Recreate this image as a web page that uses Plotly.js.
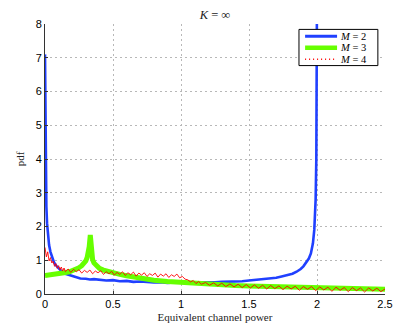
<!DOCTYPE html>
<html>
<head>
<meta charset="utf-8">
<script src="https://cdn.plot.ly/plotly-3.0.1.min.js"></script>
<style>
  html, body { margin: 0; padding: 0; background: #fff; }
  #pdf-graph { width: 415px; height: 332px; }
</style>
</head>
<body>
<div id="pdf-graph"></div>
<script>
'use strict';

// M = 2 (blue), histogram estimate
const m2X = [0, 0.003, 0.006, 0.01, 0.015, 0.02, 0.03, 0.04, 0.05, 0.065, 0.08, 0.1, 0.12, 0.15, 0.18, 0.2,
    0.23, 0.26, 0.3, 0.33, 0.36, 0.4, 0.45, 0.5, 0.55, 0.6, 0.65, 0.7, 0.75, 0.8, 0.85, 0.9, 0.95, 1.0,
    1.05, 1.1, 1.15, 1.2, 1.25, 1.3, 1.35, 1.4, 1.45, 1.5, 1.55, 1.6, 1.65, 1.7, 1.74, 1.78, 1.82, 1.85,
    1.88, 1.9, 1.92, 1.94, 1.955, 1.97, 1.98, 1.99, 1.995, 2.0];
const m2Y = [7.1, 4.6, 3.4, 2.6, 2.1, 1.8, 1.45, 1.25, 1.1, 0.95, 0.85, 0.76, 0.68, 0.6, 0.56, 0.52,
    0.49, 0.46, 0.45, 0.43, 0.44, 0.42, 0.4, 0.41, 0.38, 0.39, 0.36, 0.37, 0.35, 0.34, 0.35, 0.33, 0.34, 0.33,
    0.34, 0.33, 0.35, 0.34, 0.35, 0.36, 0.36, 0.37, 0.38, 0.4, 0.42, 0.44, 0.46, 0.48, 0.52, 0.55, 0.6, 0.66,
    0.74, 0.82, 0.92, 1.05, 1.2, 1.5, 1.9, 2.8, 4.0, 9];

// M = 3 (green)
const m3X = [0, 0.03, 0.06, 0.1, 0.14, 0.18, 0.22, 0.25, 0.27, 0.29, 0.3, 0.31, 0.32, 0.325, 0.333, 0.34,
    0.345, 0.35, 0.36, 0.38, 0.4, 0.43, 0.46, 0.5, 0.55, 0.6, 0.65, 0.7, 0.75, 0.8, 0.9, 1.0, 1.1, 1.2,
    1.3, 1.4, 1.5, 1.6, 1.7, 1.8, 1.9, 2.0, 2.1, 2.2, 2.3, 2.4, 2.5];
const m3Y = [0.55, 0.56, 0.58, 0.6, 0.63, 0.66, 0.72, 0.78, 0.84, 0.92, 0.98, 1.08, 1.25, 1.4, 1.75, 1.35,
    1.15, 1.02, 0.92, 0.82, 0.76, 0.71, 0.67, 0.63, 0.58, 0.54, 0.5, 0.47, 0.44, 0.41, 0.37, 0.34, 0.31, 0.29,
    0.27, 0.25, 0.24, 0.23, 0.22, 0.21, 0.2, 0.18, 0.18, 0.17, 0.16, 0.15, 0.14];

// M = 4 (red, thin and noisy)
const m4X = [0, 0.01, 0.02, 0.03, 0.04, 0.05, 0.06, 0.07, 0.08, 0.09, 0.1, 0.11, 0.12, 0.13, 0.14, 0.15,
    0.17, 0.19, 0.21, 0.23, 0.25, 0.27, 0.29, 0.31, 0.33, 0.35, 0.37, 0.39, 0.41, 0.43, 0.45, 0.47, 0.49,
    0.51, 0.53, 0.55, 0.57, 0.59, 0.61, 0.63, 0.65, 0.67, 0.69, 0.71, 0.73, 0.75, 0.77, 0.79, 0.81, 0.83,
    0.85, 0.87, 0.89, 0.91, 0.93, 0.95, 0.97, 0.99, 1.01, 1.03, 1.05, 1.07, 1.09, 1.11, 1.13, 1.15, 1.18,
    1.21, 1.24, 1.27, 1.3, 1.33, 1.36, 1.39, 1.42, 1.45, 1.48, 1.51, 1.54, 1.57, 1.6, 1.63, 1.66, 1.69,
    1.72, 1.75, 1.78, 1.81, 1.84, 1.87, 1.9, 1.93, 1.96, 1.99, 2.02, 2.05, 2.08, 2.11, 2.14, 2.17, 2.2,
    2.23, 2.26, 2.29, 2.32, 2.35, 2.38, 2.41, 2.44, 2.47, 2.5];
const m4Y = [1.38, 1.1, 1.25, 0.98, 1.08, 0.92, 0.97, 0.82, 0.9, 0.76, 0.84, 0.72, 0.8, 0.68, 0.77, 0.66,
    0.74, 0.64, 0.73, 0.66, 0.72, 0.62, 0.7, 0.64, 0.71, 0.6, 0.68, 0.63, 0.69, 0.58, 0.66, 0.6, 0.67,
    0.56, 0.64, 0.58, 0.66, 0.55, 0.63, 0.57, 0.65, 0.53, 0.62, 0.56, 0.63, 0.52, 0.6, 0.55, 0.62, 0.5,
    0.59, 0.53, 0.6, 0.49, 0.57, 0.52, 0.59, 0.48, 0.52, 0.44, 0.42, 0.36, 0.4, 0.31, 0.37, 0.29, 0.34,
    0.26, 0.33, 0.24, 0.32, 0.22, 0.3, 0.21, 0.29, 0.19, 0.28, 0.18, 0.27, 0.17, 0.26, 0.15, 0.25, 0.16,
    0.24, 0.13, 0.23, 0.15, 0.23, 0.11, 0.22, 0.14, 0.22, 0.1, 0.21, 0.12, 0.2, 0.08, 0.2, 0.11, 0.19,
    0.07, 0.19, 0.1, 0.18, 0.06, 0.18, 0.09, 0.17, 0.07, 0.15];

const serif = 'Liberation Serif, DejaVu Serif, serif';
const sans = 'Liberation Sans, Arial, sans-serif';

const traces = [
    { x: m2X, y: m2Y, type: 'scatter', mode: 'lines', name: '<i>M</i> = 2',
      line: { color: '#2040ff', width: 2.6 } },
    { x: m3X, y: m3Y, type: 'scatter', mode: 'lines', name: '<i>M</i> = 3',
      line: { color: '#66ff00', width: 5 } },
    { x: m4X, y: m4Y, type: 'scatter', mode: 'lines', name: '<i>M</i> = 4',
      line: { color: '#ff0000', width: 0.9 } }
];

// compact MATLAB-style legend box (native legend rows are too tall)
const legendShapes = [{
    type: 'rect', xref: 'paper', yref: 'paper',
    x0: 0.747, x1: 0.979, y0: 0.846, y1: 0.980,
    fillcolor: '#fff', line: { color: '#000', width: 1 }, layer: 'above'
}];
const legendNotes = [];
const rowY = [0.955, 0.912, 0.869];
const sampleWidth = [3, 4.5, 1.5];
traces.forEach((t, i) => {
    legendShapes.push({
        type: 'line', xref: 'paper', yref: 'paper',
        x0: 0.765, x1: 0.859, y0: rowY[i], y1: rowY[i],
        line: { color: t.line.color, width: sampleWidth[i], dash: i === 2 ? '1px,3px' : 'solid' },
        layer: 'above'
    });
    legendNotes.push({
        xref: 'paper', yref: 'paper', x: 0.866, y: rowY[i],
        xanchor: 'left', yanchor: 'middle', showarrow: false, borderpad: 0,
        text: t.name, font: { family: serif, size: 10.5, color: '#000' }
    });
});

const layout = {
    width: 415,
    height: 332,
    margin: { l: 45, r: 30, t: 24, b: 38 },
    paper_bgcolor: '#fff',
    plot_bgcolor: '#fff',
    showlegend: false,
    title: {
        text: '<i>K</i> = ∞',
        font: { family: serif, size: 12.5, color: '#222' },
        x: 0.518, xanchor: 'center', y: 0.955, yanchor: 'middle'
    },
    xaxis: {
        range: [0, 2.5],
        tickvals: [0, 0.5, 1, 1.5, 2, 2.5],
        ticktext: ['0', '0.5', '1', '1.5', '2', '2.5'],
        showgrid: true, gridcolor: '#b8b8b8', griddash: '2px,3px', gridwidth: 1,
        showline: true, linecolor: '#333', linewidth: 1, mirror: false,
        ticks: 'inside', ticklen: 3, tickcolor: '#333',
        zeroline: false,
        tickfont: { family: sans, size: 11, color: '#000' },
        title: { text: 'Equivalent channel power', font: { family: serif, size: 11, color: '#222' }, standoff: 4 }
    },
    yaxis: {
        range: [0, 8],
        tickvals: [0, 1, 2, 3, 4, 5, 6, 7, 8],
        showgrid: true, gridcolor: '#b8b8b8', griddash: '2px,3px', gridwidth: 1,
        showline: true, linecolor: '#333', linewidth: 1, mirror: false,
        ticks: 'inside', ticklen: 3, tickcolor: '#333',
        zeroline: false,
        tickfont: { family: sans, size: 11, color: '#000' },
        title: { text: 'pdf', font: { family: serif, size: 11, color: '#222' }, standoff: 8 }
    },
    shapes: legendShapes,
    annotations: legendNotes
};

Plotly.newPlot('pdf-graph', traces, layout, { displayModeBar: false, staticPlot: true });
</script>
</body>
</html>
